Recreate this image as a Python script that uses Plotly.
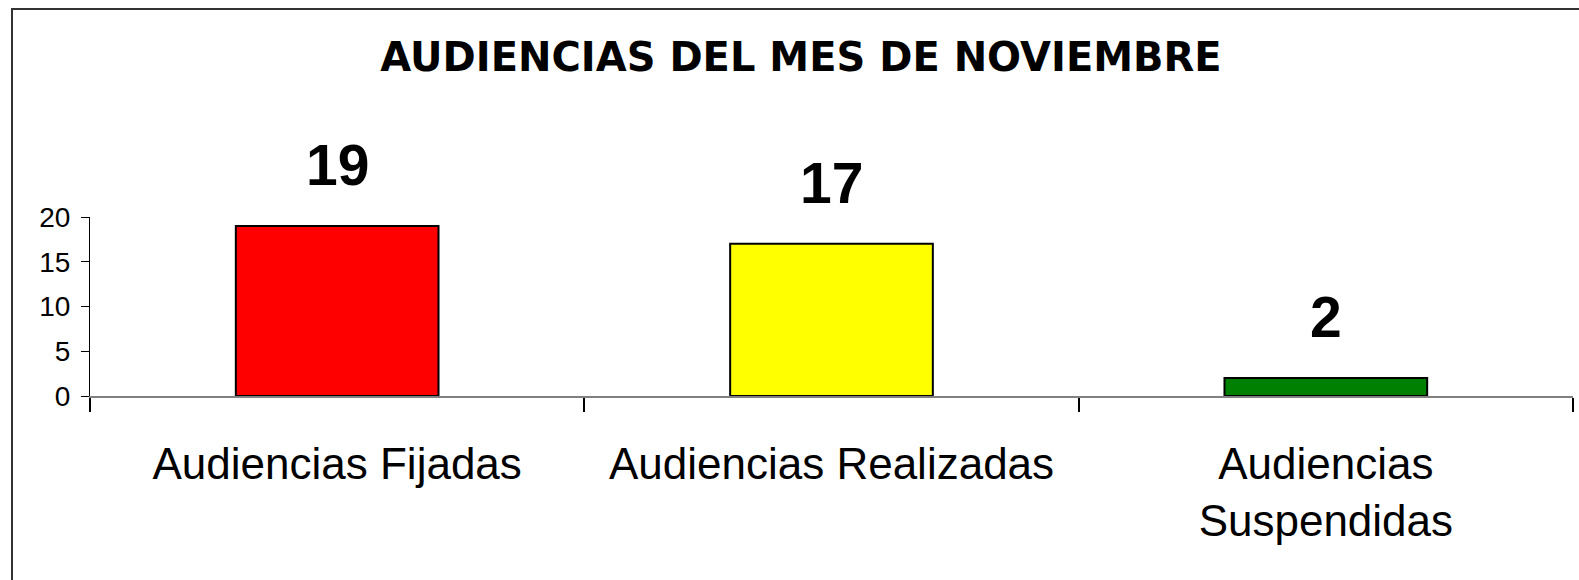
import plotly.graph_objects as go

categories = ["Audiencias Fijadas", "Audiencias Realizadas", "Audiencias<br>Suspendidas"]
values = [19, 17, 2]
bar_colors = ["#FF0000", "#FFFF00", "#008000"]
y_ticks = [0, 5, 10, 15, 20]
title_text = "AUDIENCIAS DEL MES DE NOVIEMBRE"

W, H = 1579, 580
L, R, T, B = 90, 6, 217, 184
pw = W - L - R
ph = H - T - B

fig = go.Figure()
fig.add_trace(go.Bar(
    x=categories, y=values,
    marker=dict(color=bar_colors, line=dict(color="black", width=2)),
    width=0.41,
    hoverinfo="skip",
))

for c, v in zip(categories, values):
    fig.add_annotation(x=c, y=v, text="<b>" + str(v) + "</b>", showarrow=False,
                       yanchor="bottom", yshift=27,
                       font=dict(family="Liberation Sans, Arial", size=57, color="black"))

# outer frame (extends past right/bottom edges)
fig.add_shape(type="rect", xref="paper", yref="paper",
              x0=(12 - L) / pw, x1=(W + 20 - L) / pw,
              y0=(T + ph - (H + 20)) / ph, y1=(T + ph - 9) / ph,
              line=dict(color="#333333", width=2), fillcolor="rgba(0,0,0,0)", layer="below")

fig.update_layout(
    width=W, height=H,
    margin=dict(l=L, r=R, t=T, b=B, pad=0),
    paper_bgcolor="white", plot_bgcolor="white",
    showlegend=False,
    title=dict(text="<b>" + title_text + "</b>", x=801 / W, xanchor="center", xref="container",
               y=1 - 57 / H, yanchor="middle", yref="container",
               font=dict(family="DejaVu Sans", size=40, color="black")),
    xaxis=dict(showline=True, linecolor="#808080", linewidth=2,
               ticks="outside", tickson="boundaries", ticklen=14, tickcolor="black", tickwidth=2,
               ticklabelstandoff=28,
               tickfont=dict(family="Liberation Sans, Arial", size=44, color="black"),
               showgrid=False, zeroline=False, fixedrange=True),
    yaxis=dict(range=[0, 20], tickvals=y_ticks, showline=True, linecolor="black", linewidth=1,
               ticks="outside", ticklen=8, tickcolor="black", tickwidth=1,
               ticklabelstandoff=5,
               tickfont=dict(family="Liberation Sans, Arial", size=28, color="black"),
               showgrid=False, zeroline=False, fixedrange=True),
)

fig.write_html("out.html", config={"displayModeBar": False},
               post_script="document.body.style.margin='0px';document.body.style.overflow='hidden';")
